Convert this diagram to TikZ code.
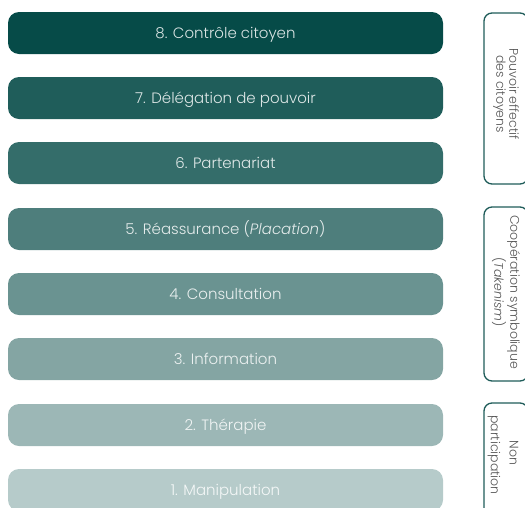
\documentclass[tikz,border=0pt]{standalone}
\usepackage{fontspec}
\setmainfont{Poppins Light}[ItalicFont={Poppins Light Italic}]
\definecolor{c8}{HTML}{064B48}
\definecolor{c7}{HTML}{1F5D5A}
\definecolor{c6}{HTML}{346D6A}
\definecolor{c5}{HTML}{4E7E7C}
\definecolor{c4}{HTML}{6A9391}
\definecolor{c3}{HTML}{84A5A3}
\definecolor{c2}{HTML}{9CB7B6}
\definecolor{c1}{HTML}{B6CBCA}
\definecolor{brk}{HTML}{1F5C59}
\definecolor{brtxt}{HTML}{555555}
\tikzset{
  rung/.style={rounded corners=11pt, minimum width=435pt, minimum height=42pt, inner sep=0pt,
    text height=11.5pt, text depth=0pt,
    text=white, text opacity=0.85, font=\fontsize{15}{17}\selectfont},
  bracketline/.style={draw=brk, line width=1.3pt, rounded corners=8pt},
  brlabel/.style={rotate=-90, text=brtxt, font=\fontsize{12.5}{13}\selectfont, align=center, inner sep=0pt}
}
\begin{document}
\begin{tikzpicture}[x=1pt,y=-1pt]
\useasboundingbox (0,0) rectangle (525,507);
\clip (0,0) rectangle (525,507);
\node[rung, fill=c8] (r8) at (225.5,33) {8. Contrôle citoyen};
\node[rung, fill=c7] (r7) at (225.5,98) {7. Délégation de pouvoir};
\node[rung, fill=c6] (r6) at (225.5,163) {6. Partenariat};
\node[rung, fill=c5] (r5) at (225.5,229) {5. Réassurance (\textit{Placation})};
\node[rung, fill=c4] (r4) at (225.5,294) {4. Consultation};
\node[rung, fill=c3] (r3) at (225.5,359) {3. Information};
\node[rung, fill=c2] (r2) at (225.5,425) {2. Thérapie};
\node[rung, fill=c1] (r1) at (225.5,490) {1. Manipulation};
% brackets
\draw[bracketline] (484,13) rectangle (528,184);
\draw[bracketline] (484,207) rectangle (528,381);
\draw[bracketline] (484,403) rectangle (528,560);
\node[brlabel] (b1) at (506,94) {Pouvoir effectif\\des citoyens};
\node[brlabel] (b2) at (506,292) {Coopération symbolique\\(\textit{Takenism})};
\node[brlabel] (b3a) at (514,453) {Non};
\node[brlabel] (b3b) at (494,455) {participation};
\end{tikzpicture}
\end{document}
